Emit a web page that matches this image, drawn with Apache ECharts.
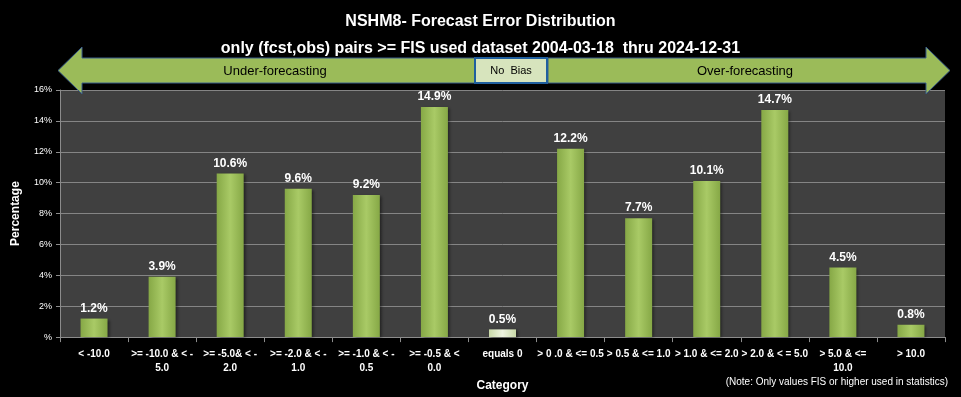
<!DOCTYPE html>
<html>
<head>
<meta charset="utf-8">
<script src="https://cdn.jsdelivr.net/npm/echarts@6/dist/echarts.min.js"></script>
<style>
  html, body { margin: 0; padding: 0; background: #000; }
  #chart { width: 961px; height: 397px; }
</style>
</head>
<body>
<div id="chart"></div>
<script>
// categories (line breaks as in the picture)
var categories = [
  '< -10.0', '>= -10.0 & < -\n5.0', '>= -5.0& < -\n2.0', '>= -2.0 & < -\n1.0',
  '>= -1.0 & < -\n0.5', '>= -0.5 & <\n0.0', 'equals 0', '> 0 .0 & <= 0.5',
  '> 0.5 & <= 1.0', '> 1.0 & <= 2.0', '> 2.0 & < = 5.0', '> 5.0 & <=\n10.0', '> 10.0'
];
// percentage per category
var percents = [1.2, 3.9, 10.6, 9.6, 9.2, 14.9, 0.5, 12.2, 7.7, 10.1, 14.7, 4.5, 0.8];
var zeroIndex = 6; // "equals 0" drawn in pale colour

var chart = echarts.init(document.getElementById('chart'));

var greenBar = new echarts.graphic.LinearGradient(0, 0, 1, 0, [
  {offset: 0, color: '#86A846'},
  {offset: 0.5, color: '#A9CA66'},
  {offset: 1, color: '#86A846'}
]);
var paleBar = new echarts.graphic.LinearGradient(0, 0, 1, 0, [
  {offset: 0, color: '#C9D9A8'},
  {offset: 0.5, color: '#EEF4E0'},
  {offset: 1, color: '#C9D9A8'}
]);

var barData = percents.map(function (v, i) {
  return {
    value: v,
    itemStyle: {color: i === zeroIndex ? paleBar : greenBar}
  };
});

var arrowStyle = {fill: '#9BBB59', stroke: '#3B5E8C', lineWidth: 1};

chart.setOption({
  backgroundColor: '#000',
  animation: false,
  title: [
    {
      text: 'NSHM8- Forecast Error Distribution',
      left: 'center', top: 9,
      textStyle: {color: '#fff', fontSize: 16, fontWeight: 'bold', fontFamily: 'Liberation Sans'}
    },
    {
      text: 'only (fcst,obs) pairs >= FIS used dataset 2004-03-18  thru 2024-12-31',
      left: 'center', top: 36,
      textStyle: {color: '#fff', fontSize: 16, fontWeight: 'bold', fontFamily: 'Liberation Sans'}
    }
  ],
  grid: {
    left: 60, right: 16, top: 90, bottom: 57,
    show: true, backgroundColor: '#404040', borderWidth: 0
  },
  xAxis: {
    type: 'category',
    data: categories,
    name: 'Category',
    nameLocation: 'middle',
    nameGap: 40,
    nameTextStyle: {color: '#fff', fontSize: 12, fontWeight: 'bold', fontFamily: 'Liberation Sans'},
    axisLine: {lineStyle: {color: '#8c8c8c'}},
    axisTick: {show: true, length: 5, lineStyle: {color: '#8c8c8c'}},
    axisLabel: {
      interval: 0, color: '#fff', fontSize: 10, fontWeight: 'bold',
      fontFamily: 'Liberation Sans', lineHeight: 14, margin: 10
    }
  },
  yAxis: {
    type: 'value',
    min: 0, max: 16, interval: 2,
    name: 'Percentage',
    nameLocation: 'middle',
    nameGap: 38,
    nameTextStyle: {color: '#fff', fontSize: 12, fontWeight: 'bold', fontFamily: 'Liberation Sans'},
    axisLine: {show: true, lineStyle: {color: '#8c8c8c'}},
    axisTick: {show: true, length: 4, lineStyle: {color: '#8c8c8c'}},
    splitLine: {lineStyle: {color: '#858585', width: 1}},
    axisLabel: {
      color: '#fff', fontSize: 9, fontFamily: 'Liberation Sans', margin: 8,
      formatter: function (v) { return v === 0 ? '%' : v + '%'; }
    }
  },
  series: [{
    type: 'bar',
    data: barData,
    barWidth: 27,
    itemStyle: {shadowColor: 'rgba(0,0,0,0.5)', shadowBlur: 3, shadowOffsetX: 2, shadowOffsetY: 1},
    label: {
      show: true, position: 'top', distance: 4,
      color: '#fff', fontSize: 12, fontWeight: 'bold', fontFamily: 'Liberation Sans',
      formatter: function (p) { return p.value.toFixed(1) + '%'; }
    }
  }],
  graphic: [
    {
      type: 'polygon',
      shape: {points: [[58, 70.5], [82, 47], [82, 58], [475, 58], [475, 83], [82, 83], [82, 94]]},
      style: arrowStyle, z: 10
    },
    {
      type: 'polygon',
      shape: {points: [[950, 70.5], [926, 47], [926, 58], [548, 58], [548, 83], [926, 83], [926, 94]]},
      style: arrowStyle, z: 10
    },
    {
      type: 'rect',
      shape: {x: 475, y: 58, width: 72, height: 25},
      style: {fill: '#D7E4BD', stroke: '#1F5F9F', lineWidth: 2}, z: 11
    },
    {
      type: 'text', x: 511, y: 71, z: 12,
      style: {text: 'No  Bias', fill: '#000', fontSize: 11, fontFamily: 'Liberation Sans', align: 'center', verticalAlign: 'middle'}
    },
    {
      type: 'text', x: 275, y: 71, z: 12,
      style: {text: 'Under-forecasting', fill: '#000', fontSize: 13, fontFamily: 'Liberation Sans', align: 'center', verticalAlign: 'middle'}
    },
    {
      type: 'text', x: 745, y: 71, z: 12,
      style: {text: 'Over-forecasting', fill: '#000', fontSize: 13, fontFamily: 'Liberation Sans', align: 'center', verticalAlign: 'middle'}
    },
    {
      type: 'text', x: 948, y: 382, z: 12,
      style: {text: '(Note: Only values FIS or higher used in statistics)', fill: '#fff', fontSize: 10, fontFamily: 'Liberation Sans', align: 'right', verticalAlign: 'middle'}
    }
  ]
});
</script>
</body>
</html>
